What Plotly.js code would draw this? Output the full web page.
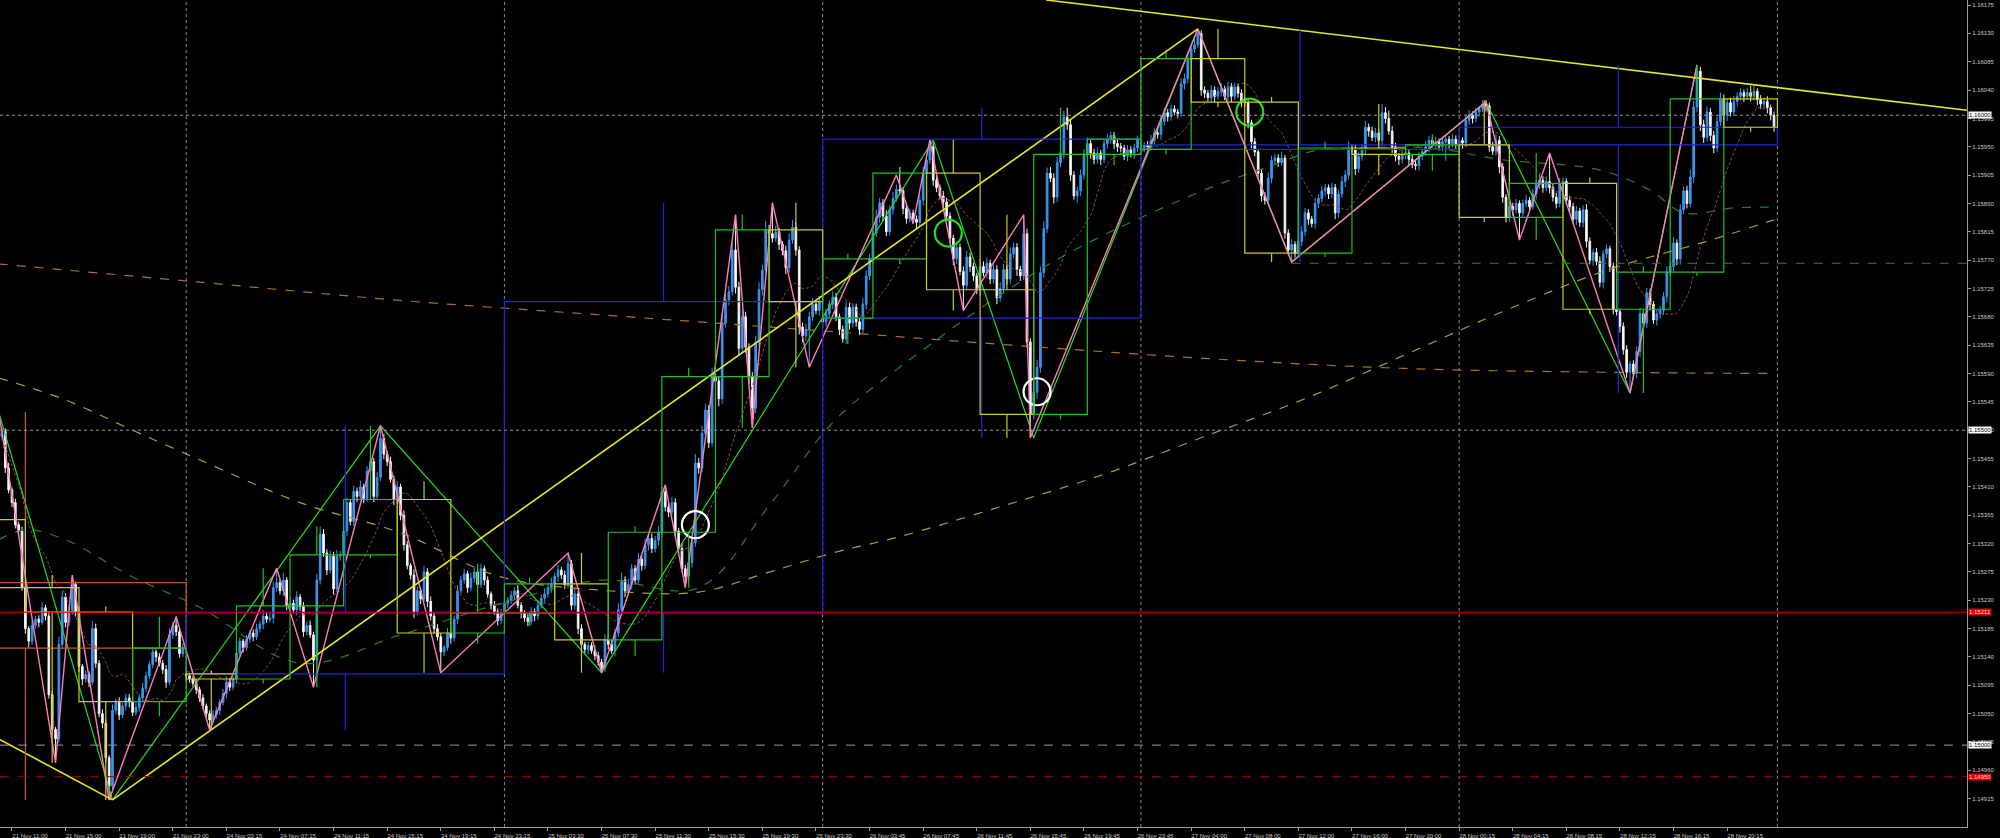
<!DOCTYPE html>
<html><head><meta charset="utf-8">
<script src="https://cdn.plot.ly/plotly-3.0.1.min.js"></script>
<style>html,body{margin:0;padding:0;background:#000;}#chart{width:2000px;height:838px;}</style>
</head><body><div id="chart"></div>
<script>
// prices are stored as points above 1.14000 (price = 1.14 + v/100000)
const BASE = 1.14;
const firstOpen = 1520;
const sessionGapOpens = [[56, 1113], [246, 1678], [341, 1946]];
const h4PrevOpen = 1358;   // open of the partly visible 21 Nov 08:00 H4 bar
const d1PrevOpen = 1258;   // open of the partly visible 21 Nov daily bar

const closes = [
1490,1498,1440,1405,1385,1350,1340,1250,1185,1165,
1190,1200,1195,1218,1205,1080,1025,1010,1160,1235,
1195,1212,1255,1211,1125,1105,1112,1100,1185,1130,
1050,1035,980,935,1055,1068,1048,1062,1075,1069,
1052,1060,1075,1090,1110,1128,1148,1140,1130,1120,
1100,1175,1190,1180,1145,1154,1110,1105,1098,1088,
1075,1062,1050,1040,1048,1055,1068,1082,1100,1092,
1105,1146,1165,1155,1168,1178,1172,1185,1192,1205,
1200,1202,1250,1258,1245,1262,1221,1225,1215,1235,
1220,1180,1190,1175,1135,1262,1335,1305,1278,1300,
1248,1300,1302,1340,1385,1355,1403,1395,1410,1392,
1435,1450,1395,1425,1487,1462,1450,1422,1390,1410,
1365,1318,1285,1270,1212,1245,1232,1275,1228,1205,
1185,1172,1148,1155,1178,1170,1200,1245,1262,1272,
1250,1265,1275,1255,1280,1262,1240,1222,1212,1198,
1210,1225,1230,1238,1245,1222,1210,1202,1196,1212,
1205,1222,1233,1240,1250,1256,1268,1278,1270,1255,
1288,1222,1240,1185,1160,1152,1158,1150,1142,1132,
1122,1167,1160,1150,1178,1215,1262,1245,1255,1280,
1262,1295,1285,1318,1328,1312,1325,1338,1402,1378,
1370,1385,1340,1312,1280,1268,1290,1321,1448,1440,
1495,1532,1480,1585,1578,1550,1670,1707,1720,1786,
1727,1630,1680,1632,1585,1535,1640,1723,1754,1818,
1812,1805,1815,1795,1785,1758,1802,1822,1786,1664,
1650,1660,1680,1700,1690,1704,1672,1685,1700,1711,
1680,1660,1645,1695,1670,1695,1672,1660,1700,1745,
1772,1813,1838,1861,1840,1815,1850,1868,1882,1880,
1852,1836,1845,1835,1830,1865,1908,1929,1950,1897,
1885,1872,1862,1840,1805,1772,1790,1752,1730,1775,
1760,1745,1723,1760,1750,1765,1740,1755,1710,1725,
1755,1740,1780,1790,1755,1745,1812,1640,1525,1560,
1600,1750,1820,1908,1900,1870,1925,1940,1997,1985,
1905,1872,1880,1905,1938,1955,1940,1930,1940,1930,
1955,1962,1968,1955,1950,1948,1935,1945,1940,1948,
1962,1948,1952,1950,1960,1972,1970,1990,2004,1998,
2010,2005,2003,2050,2058,2090,2105,2112,2130,2040,
2035,2028,2040,2030,2038,2042,2030,2045,2030,2045,
2035,2021,2020,1988,1958,1942,1908,1872,1865,1900,
1928,1932,1925,1932,1813,1786,1795,1781,1800,1815,
1845,1835,1828,1860,1868,1880,1885,1875,1885,1845,
1875,1895,1905,1948,1945,1915,1935,1945,1981,1975,
1965,1972,1960,2004,1995,1975,1950,1935,1930,1938,
1940,1930,1922,1920,1935,1942,1950,1960,1955,1958,
1950,1958,1962,1955,1962,1953,1960,1956,1992,2000,
1995,2005,2010,2018,2015,1950,1943,1960,1918,1870,
1838,1855,1850,1860,1845,1860,1865,1855,1875,1890,
1897,1885,1895,1885,1870,1860,1892,1895,1865,1855,
1835,1848,1830,1850,1800,1770,1782,1768,1735,1780,
1788,1760,1692,1688,1665,1628,1592,1605,1590,1625,
1685,1670,1718,1700,1675,1685,1690,1712,1751,1760,
1797,1772,1850,1880,1860,1902,2013,2070,1985,1965,
2005,1968,1948,1990,2026,2000,2020,2005,2022,2030,
2036,2030,2036,2030,2038,2025,2018,2022,2012,2000,
1981];

const upWick = [
9,6,5,8,4,6,5,7,6,4, 8,5,6,9,5,7,6,4,12,10, 6,8,15,5,9,4,6,5,12,8, 5,7,6,4,10,6,8,5,7,6,
5,8,6,9,7,5,8,4,6,5, 7,10,6,14,5,8,6,5,4,7, 5,6,4,5,8,6,5,7,9,6, 5,8,6,4,7,5,6,8,5,9,
6,7,10,23,6,12,5,8,6,9, 5,7,6,8,5,10,12,8,6,9, 7,10,6,12,8,5,9,6,10,5, 8,12,6,9,20,7,5,8,6,9,
5,8,6,4,9,7,5,10,6,8, 5,7,6,4,8,5,6,9,7,8, 5,9,7,6,8,5,6,4,7,5, 6,8,5,7,6,9,5,4,6,7,
5,8,6,9,7,10,6,8,5,7, 17,6,8,5,7,4,6,5,8,6, 5,9,6,8,7,10,12,6,9,8, 6,10,7,9,6,8,7,9,8,11,
6,9,7,5,8,6,9,10,14,8, 12,10,8,14,9,7,15,10,9,12, 56,9,12,8,6,7,10,12,9,14, 8,49,9,6,5,8,10,12,8,6,
7,9,8,10,6,9,7,8,6,9, 7,5,6,9,8,7,6,5,10,9, 8,10,12,8,6,9,7,10,8,36, 6,8,7,5,6,9,10,8,11,7,
6,5,8,7,6,5,9,6,8,10, 7,6,5,12,8,9,6,8,7,10, 9,6,10,8,7,6,30,8,6,10, 12,10,12,9,10,8,9,11,10,15,
8,6,7,9,8,10,6,7,9,5, 8,9,6,5,7,6,5,8,6,7, 6,8,5,7,9,8,6,10,8,6, 7,6,5,9,8,10,7,9,7,5,
6,5,8,6,7,9,5,8,6,7, 5,6,8,7,5,6,5,7,6,9, 8,7,6,10,5,6,8,5,7,9, 8,6,5,9,7,8,6,5,8,6,
7,9,8,10,6,8,7,9,10,6, 7,8,6,14,9,12,8,6,5,7, 6,5,7,8,6,5,9,7,6,8, 5,7,6,5,8,6,7,5,9,8,
6,7,5,6,6,5,8,10,7,6, 5,8,6,7,5,6,9,5,8,7, 10,6,8,45,6,7,8,6,5,7, 6,8,5,7,9,6,5,7,8,6,
7,5,6,8,5,6,7,5,6,8, 9,6,8,7,5,6,8,7,9,8, 10,6,9,7,8,12,10,10,7,8, 9,6,7,8,10,7,6,8,9,6,
7,5,8,6,9,5,7,6,8,5, 6];

const downWick = [
10,6,8,5,7,6,9,5,8,10, 6,5,8,4,7,6,9,38,6,5, 8,6,5,7,9,10,6,8,5,7, 6,8,7,22,5,6,8,5,7,9,
6,5,7,4,6,5,6,8,5,7, 9,5,6,7,6,5,8,6,5,7, 6,5,7,16,5,6,7,5,8,6, 5,7,6,8,5,6,7,5,6,8,
6,5,9,7,6,8,7,5,6,9, 7,8,6,5,43,9,7,6,8,5, 9,6,7,5,8,6,7,9,5,8, 6,7,9,5,6,8,7,5,9,6,
8,9,6,7,10,6,8,5,9,7, 8,6,33,7,5,9,6,7,5,6, 8,5,7,6,5,8,6,7,5,8, 6,5,7,6,8,5,9,6,7,5,
8,6,5,7,6,8,5,9,6,7, 6,8,7,9,5,6,8,5,7,6, 7,6,8,5,9,6,7,10,6,8, 7,5,8,6,9,7,6,8,5,7,
8,6,9,7,6,18,7,8,6,9, 7,10,8,6,9,12,8,7,9,6, 10,12,8,9,11,31,8,7,9,6, 8,7,6,9,7,10,8,6,9,12,
10,8,60,7,6,8,9,7,6,8, 7,9,6,8,10,7,8,9,6,8, 7,8,6,9,8,7,6,8,5,7, 9,8,6,7,10,6,8,7,6,9,
7,6,9,8,7,10,8,6,40,7, 9,8,7,10,6,9,8,7,10,6, 8,9,7,6,10,8,7,9,37,8, 10,9,8,7,6,10,8,7,9,8,
9,6,11,8,7,6,9,8,7,9, 6,8,7,9,8,7,6,8,7,9, 6,8,7,5,6,8,7,9,6,8, 7,5,8,6,9,7,8,6,5,9,
8,6,7,9,5,8,6,7,9,6, 7,8,6,9,10,7,8,9,7,6, 8,6,7,5,9,8,19,7,6,8, 7,9,6,8,7,6,9,8,7,10,
8,6,9,7,8,10,6,7,8,9, 6,8,7,9,8,6,10,8,9,7, 8,9,6,7,8,6,7,9,5,8, 6,7,30,8,6,7,5,9,6,7,
8,6,7,5,9,8,6,7,10,9, 8,7,9,6,43,8,6,7,5,9, 7,8,6,9,7,8,6,9,7,8, 6,9,7,8,10,7,9,6,8,10,
7,9,8,6,10,8,9,33,7,8, 9,7,8,10,6,9,8,7,9,6, 8,10,9,7,8,6,9,8,10,9, 7,9,8,6,7,8,9,7,6,8,
7,9,6,8,7,9,8,7,9,8, 7];

// bar index where each 4-hour and each daily period begins
const h4Starts = [-8,8,24,40,56,71,87,103,119,135,151,166,182,198,214,230,246,261,277,293,309,325,341,356,372,388,404,420,436,451,467,483,499,515,531];
const d1Starts = [-40,56,151,246,341,436,531];
const daySeparators = [56,151,246,341,436,531];

const tickIdx = [4,20,36,52,68,84,100,116,132,148,164,180,196,212,228,244,260,276,292,308,324,340,356,372,388,404,420,436,452,468,484,500,516];
const timeLabels = ['21 Nov 11:00','21 Nov 15:00','21 Nov 19:00','21 Nov 23:00','24 Nov 03:15','24 Nov 07:15','24 Nov 11:15','24 Nov 15:15','24 Nov 19:15','24 Nov 23:15','25 Nov 03:30','25 Nov 07:30','25 Nov 11:30','25 Nov 15:30','25 Nov 19:30','25 Nov 23:30','26 Nov 03:45','26 Nov 07:45','26 Nov 11:45','26 Nov 15:45','26 Nov 19:45','26 Nov 23:45','27 Nov 04:00','27 Nov 08:00','27 Nov 12:00','27 Nov 16:00','27 Nov 20:00','28 Nov 00:15','28 Nov 04:15','28 Nov 08:15','28 Nov 12:15','28 Nov 16:15','28 Nov 20:15'];

const priceTicks = [1.14915,1.14960,1.15005,1.15050,1.15095,1.15140,1.15185,1.15230,1.15275,1.15320,1.15365,1.15410,1.15455,1.15500,1.15545,1.15590,1.15635,1.15680,1.15725,1.15770,1.15815,1.15860,1.15905,1.15950,1.15995,1.16040,1.16085,1.16130,1.16175];

// zigzag pivots (bar index, points)
const zigGreenIdx = [0,34,114,180,279,309,358,386,444,487,507];
const zigGreenVal = [1529,913,1507,1115,1961,1488,2137,1767,2021,1559,2080];
const zigPinkIdx = [0,17,22,33,53,63,83,94,114,132,170,180,199,205,220,225,231,242,268,273,278,288,306,308,358,386,444,454,463,487,507];
const zigPinkVal = [1529,972,1270,913,1204,1024,1281,1092,1507,1115,1305,1115,1413,1250,1842,1504,1861,1600,1905,1828,1961,1690,1842,1488,2137,1767,2021,1802,1940,1559,2080];

// yellow trend lines: [idx0, v0, idx1, v1]
const trendLines = [[0,1010,34,913],[34,913,358,2137],[312.7,2183,587.6,2008]];

// moving averages (bar index, points)
const maOrangeIdx = [0,60,120,180,240,300,360,420,480,530];
const maOrangeVal = [1764,1735,1706,1683,1660,1636,1614,1598,1592,1590];
const maOliveIdx = [0,20,40,60,90,120,150,180,209,229,249,269,300,330,360,390,420,448,480,510,530];
const maOliveVal = [1583,1548,1500,1453,1385,1337,1267,1246,1243,1273,1305,1331,1380,1430,1490,1550,1620,1686,1754,1800,1834];
const maGreenIdx = [0,8,20,40,60,90,120,150,180,209,230,249,269,314,358,379,394,408,428,448,478,493,503,518,530];
const maGreenVal = [1326,1342,1326,1267,1219,1130,1175,1225,1262,1250,1380,1512,1600,1765,1877,1918,1945,1948,1948,1930,1913,1881,1845,1853,1854];

const whiteCircleIdx = [208, 310];
const whiteCircleVal = [1350, 1561];
const greenCircleIdx = [283.5, 373.5];
const greenCircleVal = [1813, 2005];

const supportStartIdx = 386, supportVal = 1765;
const levelVals  = [2000, 1500, 1211, 1000, 950];
const levelText  = ['1.16000','1.15500','1.15211','1.15000','1.14950'];
const levelColor = ['#9a9a9a','#9a9a9a','#d00000','#9a9a9a','#a00000'];
const levelDash  = ['dot','dot','solid','dash','dash'];
const levelBox   = ['#ffffff','#ffffff','#e00000','#ffffff','#e00000'];
const levelFont  = ['#000000','#000000','#ffd8d8','#000000','#ffd8d8'];

// ---------------------------------------------------------------
const P = v => +(BASE + v / 100000).toFixed(5);
const N = closes.length;
const idx = closes.map((_, i) => i);
const opens = closes.map((c, i) => i === 0 ? firstOpen : closes[i - 1]);
sessionGapOpens.forEach(([i, v]) => { opens[i] = v; });
const highs = closes.map((c, i) => Math.max(opens[i], c) + upWick[i]);
const lows = closes.map((c, i) => Math.min(opens[i], c) - downWick[i]);

const sma20 = closes.map((c, i) => {
  const s = Math.max(0, i - 19); let t = 0;
  for (let k = s; k <= i; k++) t += closes[k];
  return P(t / (i - s + 1));
});

const shapes = [];
function periodBoxes(starts, prevOpen, upCol, dnCol, width) {
  for (let g = 0; g < starts.length - 1; g++) {
    const s = starts[g], e = starts[g + 1];
    const a = Math.max(0, s), b = Math.min(N - 1, e - 1);
    if (b < a) continue;
    const o = s < 0 ? prevOpen : opens[s];
    const c = closes[b];
    let h = -1e9, l = 1e9;
    for (let k = a; k <= b; k++) { h = Math.max(h, highs[k]); l = Math.min(l, lows[k]); }
    const col = c >= o ? upCol : dnCol;
    const top = Math.max(o, c), bot = Math.min(o, c);
    const mid = (s + e) / 2;
    shapes.push({type:'rect', xref:'x', yref:'y', x0:s, x1:e, y0:P(bot), y1:P(top), line:{color:col, width:width}, fillcolor:'rgba(0,0,0,0)', layer:'above'});
    if (h > top) shapes.push({type:'line', xref:'x', yref:'y', x0:mid, x1:mid, y0:P(top), y1:P(h), line:{color:col, width:width}, layer:'above'});
    if (l < bot) shapes.push({type:'line', xref:'x', yref:'y', x0:mid, x1:mid, y0:P(l), y1:P(bot), line:{color:col, width:width}, layer:'above'});
  }
}
periodBoxes(d1Starts, d1PrevOpen, '#2424d8', '#c85a28', 1.2);
periodBoxes(h4Starts, h4PrevOpen, '#22c022', '#cccc22', 1.2);

daySeparators.forEach(d => shapes.push({type:'line', xref:'x', yref:'paper', x0:d, x1:d, y0:0, y1:1, line:{color:'#8a8a8a', width:1, dash:'dot'}, layer:'below'}));
levelVals.forEach((v, i) => shapes.push({type:'line', xref:'paper', yref:'y', x0:0, x1:1, y0:P(v), y1:P(v), line:{color:levelColor[i], width:1, dash:levelDash[i]}, layer:'above'}));
shapes.push({type:'line', xref:'x', yref:'y', x0:supportStartIdx, x1:600, y0:P(supportVal), y1:P(supportVal), line:{color:'#1f8a1f', width:1, dash:'dash'}, layer:'above'});

const annotations = levelVals.map((v, i) => ({
  xref:'paper', yref:'y', x:1, y:P(v), xanchor:'left', yanchor:'middle', xshift:1,
  text:levelText[i], showarrow:false, bgcolor:levelBox[i], borderpad:0,
  font:{family:'Liberation Sans, Arial, sans-serif', size:6, color:levelFont[i]}
}));

const traces = [];
const maLine = (xs, vs, col, w, dash) => ({type:'scatter', mode:'lines', x:xs, y:vs.map(P), line:{color:col, width:w, dash:dash, shape:'spline', smoothing:1}, hoverinfo:'skip', showlegend:false});
traces.push(maLine(maOrangeIdx, maOrangeVal, '#a87424', 1.2, 'dash'));
traces.push(maLine(maOliveIdx, maOliveVal, '#a8a028', 1.2, 'dash'));
traces.push(maLine(maGreenIdx, maGreenVal, '#2a7e2a', 1.2, 'dash'));
traces.push({type:'scatter', mode:'lines', x:idx, y:sma20, line:{color:'#8a4a4a', width:1, dash:'3px,2px'}, hoverinfo:'skip', showlegend:false});

traces.push({
  type:'candlestick', x:idx, open:opens.map(P), high:highs.map(P), low:lows.map(P), close:closes.map(P),
  increasing:{line:{color:'#3a96ee', width:1}, fillcolor:'#3a96ee'},
  decreasing:{line:{color:'#f2f2f2', width:1}, fillcolor:'#ffffff'},
  whiskerwidth:0, hoverinfo:'skip', showlegend:false
});

traces.push({type:'scatter', mode:'lines', x:zigGreenIdx, y:zigGreenVal.map(P), line:{color:'#22dd22', width:1.2}, hoverinfo:'skip', showlegend:false});
traces.push({type:'scatter', mode:'lines', x:zigPinkIdx, y:zigPinkVal.map(P), line:{color:'#ff7cbc', width:1.4}, hoverinfo:'skip', showlegend:false});
trendLines.forEach(t => traces.push({type:'scatter', mode:'lines', x:[t[0], t[2]], y:[P(t[1]), P(t[3])], line:{color:'#e8e820', width:1.6}, hoverinfo:'skip', showlegend:false}));
traces.push({type:'scatter', mode:'markers', x:whiteCircleIdx, y:whiteCircleVal.map(P), marker:{symbol:'circle-open', size:27, color:'#ffffff', line:{width:2.2, color:'#ffffff'}}, hoverinfo:'skip', showlegend:false});
traces.push({type:'scatter', mode:'markers', x:greenCircleIdx, y:greenCircleVal.map(P), marker:{symbol:'circle-open', size:27, color:'#22dd22', line:{width:2.2, color:'#22dd22'}}, hoverinfo:'skip', showlegend:false});

const layout = {
  width:2000, height:838, margin:{l:0, r:33, t:0, b:11},
  paper_bgcolor:'#000000', plot_bgcolor:'#000000', showlegend:false, dragmode:false,
  xaxis:{range:[0.42, 587.6], tickmode:'array', tickvals:tickIdx, ticktext:timeLabels,
    ticks:'outside', ticklen:3, tickcolor:'#9a9a9a', ticklabelshift:18, ticklabelstandoff:0,
    tickfont:{family:'Liberation Sans, Arial, sans-serif', size:6, color:'#c8c8c8'},
    showgrid:false, zeroline:false, showline:true, linecolor:'#9a9a9a', linewidth:1, mirror:true,
    rangeslider:{visible:false}, fixedrange:true},
  yaxis:{range:[1.14870, 1.16183], side:'right', tickmode:'array', tickvals:priceTicks,
    ticktext:priceTicks.map(p => p.toFixed(5)), ticks:'outside', ticklen:3, tickcolor:'#9a9a9a',
    tickfont:{family:'Liberation Sans, Arial, sans-serif', size:6, color:'#c8c8c8'},
    showgrid:false, zeroline:false, showline:true, linecolor:'#9a9a9a', linewidth:1, fixedrange:true},
  shapes:shapes, annotations:annotations
};

Plotly.newPlot('chart', traces, layout, {staticPlot:true, displayModeBar:false});
</script></body></html>
